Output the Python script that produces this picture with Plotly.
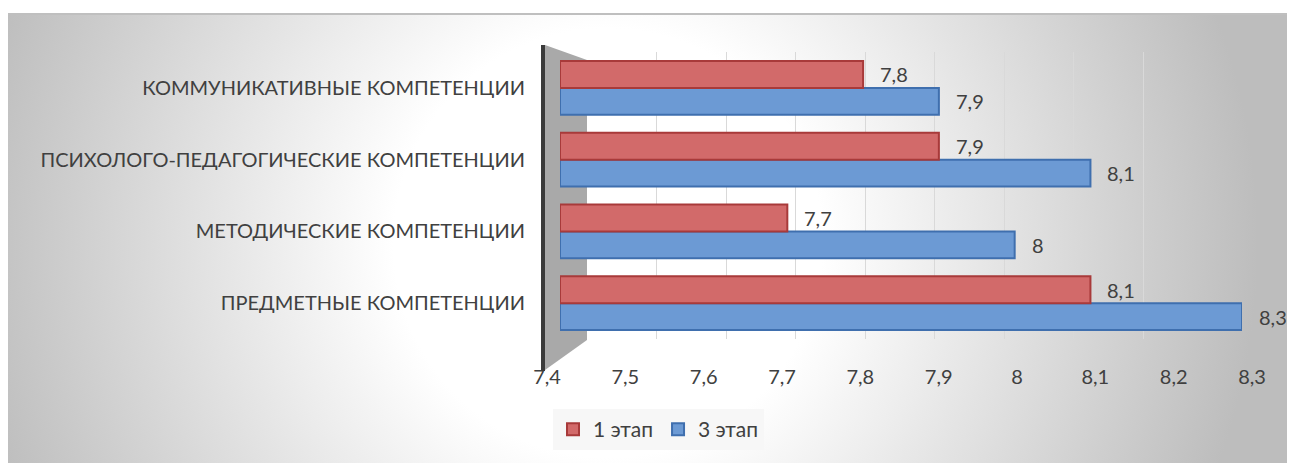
import base64
import plotly.graph_objects as go

categories = [
    "ПРЕДМЕТНЫЕ КОМПЕТЕНЦИИ",
    "МЕТОДИЧЕСКИЕ КОМПЕТЕНЦИИ",
    "ПСИХОЛОГО-ПЕДАГОГИЧЕСКИЕ КОМПЕТЕНЦИИ",
    "КОММУНИКАТИВНЫЕ КОМПЕТЕНЦИИ",
]
stage1 = [8.1, 7.7, 7.9, 7.8]
stage3 = [8.3, 8.0, 8.1, 7.9]
series_names = ["1 этап", "3 этап"]
tick_vals = [7.4, 7.5, 7.6, 7.7, 7.8, 7.9, 8.0, 8.1, 8.2, 8.3]
tick_labels = ["7,4", "7,5", "7,6", "7,7", "7,8", "7,9", "8", "8,1", "8,2", "8,3"]
x_min, x_max = 7.4, 8.3


def fmt(v):
    return ("%g" % v).replace(".", ",")


# page has an 8px body margin, so the figure is 8px smaller than the window
W, H = 1287, 455
# plot area in window pixels: x 540..1255, y 52..339
ML, MT = 532, 44
MR = W - (1255 - 8)
MB = H - (339 - 8)
PW = 1255 - 540
PH = 339 - 52


def px(x):
    return (x - 540) / PW


def py(y):
    return (339 - y) / PH


FONT = "Lato"
FS = 20
TXT = "#404040"
RED = "#d26a6a"
RED_L = "#a83a3a"
BLUE = "#6c9ad4"
BLUE_L = "#3f6fae"

bargap = 0.25
half = (1 - bargap) / 4

fig = go.Figure()
# subplot 1: back-wall grid (drawn first, below everything)
fig.add_trace(go.Scatter(x=[x_min], y=[categories[0]], xaxis="x", yaxis="y", mode="markers",
                         marker=dict(opacity=0), showlegend=False, hoverinfo="skip"))
# subplot 2: tick labels on the floor
fig.add_trace(go.Scatter(x=[x_min], y=[categories[0]], xaxis="x2", yaxis="y", mode="markers",
                         marker=dict(opacity=0), showlegend=False, hoverinfo="skip"))
# subplot 3: bars
fig.add_trace(go.Bar(
    y=categories, x=[v - x_min for v in stage3], base=x_min, xaxis="x3", yaxis="y",
    orientation="h", name=series_names[1], legendrank=2,
    marker=dict(color=BLUE, line=dict(color=BLUE_L, width=2)),
    hovertext=[fmt(v) for v in stage3], hoverinfo="text+name",
))
fig.add_trace(go.Bar(
    y=categories, x=[v - x_min for v in stage1], base=x_min, xaxis="x3", yaxis="y",
    orientation="h", name=series_names[0], legendrank=1,
    marker=dict(color=RED, line=dict(color=RED_L, width=2)),
    hovertext=[fmt(v) for v in stage1], hoverinfo="text+name",
))

annotations = []
for i, v in enumerate(stage1):
    annotations.append(dict(x=v, y=i + half, xref="x3", yref="y", text=fmt(v),
                            showarrow=False, xanchor="left", xshift=15,
                            font=dict(family=FONT, size=FS, color=TXT)))
for i, v in enumerate(stage3):
    annotations.append(dict(x=v, y=i - half, xref="x3", yref="y", text=fmt(v),
                            showarrow=False, xanchor="left", xshift=15,
                            font=dict(family=FONT, size=FS, color=TXT)))

svg = (
    '<svg xmlns="http://www.w3.org/2000/svg" width="1287" height="450">'
    '<defs><radialGradient id="g" gradientUnits="userSpaceOnUse" cx="600" cy="230" r="650">'
    '<stop offset="0" stop-color="#ffffff"/><stop offset="0.33" stop-color="#ffffff"/>'
    '<stop offset="1" stop-color="#bdbdbd"/></radialGradient></defs>'
    '<rect width="1287" height="450" fill="url(#g)"/>'
    '<rect width="1287" height="2" fill="#bfbfbf"/></svg>'
)
uri = "data:image/svg+xml;base64," + base64.b64encode(svg.encode()).decode()

shapes = [
    dict(type="path", xref="paper", yref="paper", layer="below",
         path=f"M {px(545)},{py(45)} L {px(587)},{py(60)} L {px(587)},{py(340)} L {px(545)},{py(370)} Z",
         fillcolor="#a9a9a9", line=dict(width=0)),
    dict(type="line", xref="paper", yref="paper", x0=px(543), x1=px(543), y0=py(45), y1=py(371),
         line=dict(color="#3a3a3a", width=4)),
]

fig.update_layout(
    width=W, height=H,
    margin=dict(l=ML, r=MR, t=MT, b=MB),
    paper_bgcolor="white", plot_bgcolor="rgba(0,0,0,0)",
    barmode="group", bargap=bargap,
    separators=", ",
    font=dict(family=FONT, size=FS, color=TXT),
    showlegend=True,
    legend=dict(orientation="h", x=px(553), y=py(409), xanchor="left", yanchor="top",
                bgcolor="#f7f7f7", font=dict(family=FONT, size=21, color=TXT),
                itemwidth=30, traceorder="normal"),
    xaxis=dict(domain=[px(587), px(1213)], range=[x_min, x_max], anchor="y",
               tickvals=tick_vals, showgrid=True, gridcolor="#d9d9d9", gridwidth=1,
               showticklabels=False, zeroline=False, showline=False, fixedrange=True),
    xaxis2=dict(domain=[px(547), px(1252)], range=[x_min, x_max], anchor="y",
                tickvals=tick_vals, ticktext=tick_labels, showgrid=False,
                zeroline=False, showline=False, ticks="", side="bottom",
                ticklabelstandoff=24, tickfont=dict(family=FONT, size=FS, color=TXT),
                fixedrange=True),
    xaxis3=dict(domain=[px(560), px(1242)], range=[x_min, x_max], anchor="y",
                showgrid=False, showticklabels=False, zeroline=False, showline=False,
                fixedrange=True),
    yaxis=dict(range=[-0.5, 3.5], showgrid=False, zeroline=False, showline=False,
               ticks="", ticklabelstandoff=34, tickfont=dict(family=FONT, size=FS, color=TXT),
               anchor="x3", fixedrange=True),
    annotations=annotations,
    shapes=shapes,
    images=[dict(source=uri, xref="paper", yref="paper", x=px(8), y=py(13),
                 sizex=1287 / PW, sizey=450 / PH, sizing="stretch", layer="below",
                 xanchor="left", yanchor="top")],
)

fig.write_html("out.html")
